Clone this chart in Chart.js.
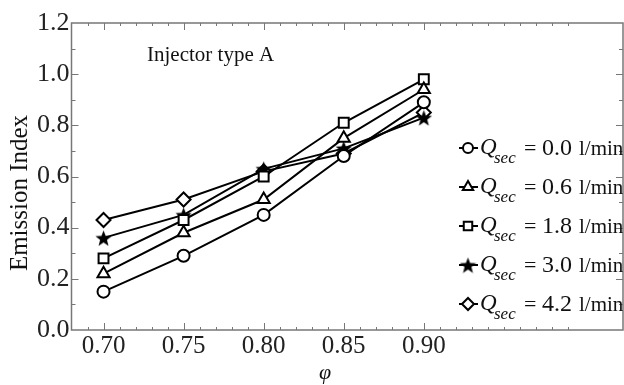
<!DOCTYPE html>
<html>
<head>
<meta charset="utf-8">
<script src="https://cdn.jsdelivr.net/npm/chart.js@4"></script>
<style>
  html, body { margin: 0; padding: 0; background: #fff; }
  #wrap { width: 624px; height: 385px; }
</style>
</head>
<body>
<div id="wrap"><canvas id="emissionChart" width="624" height="385"></canvas></div>
<script>
// equivalence ratio values on the x axis
const phi = [0.70, 0.75, 0.80, 0.85, 0.90];
// secondary air flow labels (l/min)
const qSec = ['0.0', '0.6', '1.8', '3.0', '4.2'];
// emission index per secondary flow
const eiQ00 = [0.15, 0.29, 0.45, 0.68, 0.89];
const eiQ06 = [0.22, 0.38, 0.51, 0.75, 0.94];
const eiQ18 = [0.28, 0.43, 0.60, 0.81, 0.98];
const eiQ30 = [0.36, 0.45, 0.63, 0.71, 0.83];
const eiQ42 = [0.43, 0.51, 0.62, 0.69, 0.85];
// tick labels
const xTicks = [0.70, 0.75, 0.80, 0.85, 0.90];
const yTicks = [0.0, 0.2, 0.4, 0.6, 0.8, 1.0, 1.2];

const SERIF = '"Liberation Serif", "Times New Roman", serif';

// filled five point star for the 3.0 l/min series
function makeStar(size) {
    const c = document.createElement('canvas');
    c.width = size; c.height = size;
    const g = c.getContext('2d');
    const cx = size / 2, cy = size / 2 + 1, R = size / 2, r = R * 0.42;
    g.beginPath();
    for (let i = 0; i < 10; i++) {
        const rad = i % 2 === 0 ? R : r;
        const a = -Math.PI / 2 + i * Math.PI / 5;
        g.lineTo(cx + rad * Math.cos(a), cy + rad * Math.sin(a));
    }
    g.closePath();
    g.fillStyle = '#000';
    g.fill();
    return c;
}
const starImg = makeStar(17);

const seriesValues = [eiQ00, eiQ06, eiQ18, eiQ30, eiQ42];
const styles = ['circle', 'triangle', 'rect', starImg, 'rectRot'];
const radii = [6, 7, 7, 8, 7];

const datasets = seriesValues.map(function(vals, i) {
    return {
        label: qSec[i],
        data: phi.map(function(p, j) { return { x: p, y: vals[j] }; }),
        borderColor: '#000',
        backgroundColor: '#fff',
        borderWidth: 2,
        pointStyle: styles[i],
        pointRadius: radii[i],
        pointBorderWidth: 2,
        pointBackgroundColor: '#fff',
        pointBorderColor: '#000',
        tension: 0
    };
});

const frame = {
    id: 'frame',
    afterDraw: function(chart) {
        const ctx = chart.ctx;
        const a = chart.chartArea;
        const xs = chart.scales.x, ys = chart.scales.y;
        ctx.save();
        ctx.strokeStyle = '#777';
        ctx.lineWidth = 1.5;
        ctx.strokeRect(a.left, a.top, a.right - a.left - 1, a.bottom - a.top);
        ctx.lineWidth = 1;
        // inward ticks, x
        for (let k = 69; k <= 99; k++) {
            const v = k / 100;
            const major = k % 5 === 0 && k <= 90;
            const len = major ? 7 : 3;
            const px = Math.round(xs.getPixelForValue(v)) + 0.5;
            ctx.beginPath();
            ctx.moveTo(px, a.bottom); ctx.lineTo(px, a.bottom - len);
            ctx.moveTo(px, a.top); ctx.lineTo(px, a.top + len);
            ctx.stroke();
        }
        // inward ticks, y
        for (let k = 1; k < 12; k++) {
            const v = k / 10;
            const len = k % 2 === 0 ? 7 : 4;
            const py = Math.round(ys.getPixelForValue(v)) + 0.5;
            ctx.beginPath();
            ctx.moveTo(a.left, py); ctx.lineTo(a.left + len, py);
            ctx.moveTo(a.right - 1, py); ctx.lineTo(a.right - 1 - len, py);
            ctx.stroke();
        }
        // caption and axis titles
        ctx.fillStyle = '#111';
        ctx.font = '21px ' + SERIF;
        ctx.textBaseline = 'middle';
        ctx.textAlign = 'left';
        ctx.fillText('Injector type A', 147, 55);

        ctx.textAlign = 'center';
        ctx.font = 'italic 22px ' + SERIF;
        ctx.fillText('φ', 325, 373);

        ctx.save();
        ctx.translate(20, 193);
        ctx.rotate(-Math.PI / 2);
        ctx.font = '25px ' + SERIF;
        ctx.fillText('Emission Index', 0, 0);
        ctx.restore();

        // legend with subscripts
        ctx.textAlign = 'left';
        chart.data.datasets.forEach(function(ds, i) {
            const y = 148 + i * 39;
            ctx.strokeStyle = '#000';
            ctx.lineWidth = 2;
            ctx.beginPath();
            ctx.moveTo(459, y); ctx.lineTo(478, y);
            ctx.stroke();
            ctx.fillStyle = '#fff';
            Chart.helpers.drawPoint(ctx, {
                pointStyle: ds.pointStyle,
                radius: ds.pointRadius - 1,
                borderWidth: 2
            }, 468, y);
            ctx.fillStyle = '#111';
            ctx.textBaseline = 'alphabetic';
            ctx.font = 'italic 23px ' + SERIF;
            ctx.fillText('Q', 480, y + 6);
            ctx.font = 'italic 17px ' + SERIF;
            ctx.fillText('sec', 494, y + 15);
            ctx.font = '22px ' + SERIF;
            ctx.fillText('=', 524, y + 7);
            ctx.font = '24px ' + SERIF;
            ctx.fillText(ds.label, 542, y + 7);
            ctx.font = '21px ' + SERIF;
            ctx.fillText('l/min', 579, y + 7);
        });
        ctx.restore();
    }
};

new Chart(document.getElementById('emissionChart').getContext('2d'), {
    type: 'line',
    data: { datasets: datasets },
    options: {
        responsive: false,
        animation: false,
        layout: { autoPadding: false, padding: { top: 23, right: 0, left: 35, bottom: 22 } },
        plugins: {
            legend: { display: false },
            tooltip: { enabled: false }
        },
        scales: {
            x: {
                type: 'linear',
                min: 0.68,
                max: 1.025,
                afterBuildTicks: function(scale) {
                    scale.ticks = xTicks.map(function(v) { return { value: v }; });
                },
                ticks: {
                    color: '#222',
                    padding: 4,
                    maxRotation: 0,
                    font: { family: SERIF, size: 25, lineHeight: 1 },
                    callback: function(v) { return Number(v).toFixed(2); }
                },
                grid: { display: false, drawTicks: false },
                border: { display: false }
            },
            y: {
                min: 0,
                max: 1.2,
                afterBuildTicks: function(scale) {
                    scale.ticks = yTicks.map(function(v) { return { value: v }; });
                },
                ticks: {
                    color: '#222',
                    padding: 2,
                    font: { family: SERIF, size: 26, lineHeight: 1 },
                    callback: function(v) { return Number(v).toFixed(1); }
                },
                grid: { display: false, drawTicks: false },
                border: { display: false }
            }
        }
    },
    plugins: [frame]
});
</script>
</body>
</html>
